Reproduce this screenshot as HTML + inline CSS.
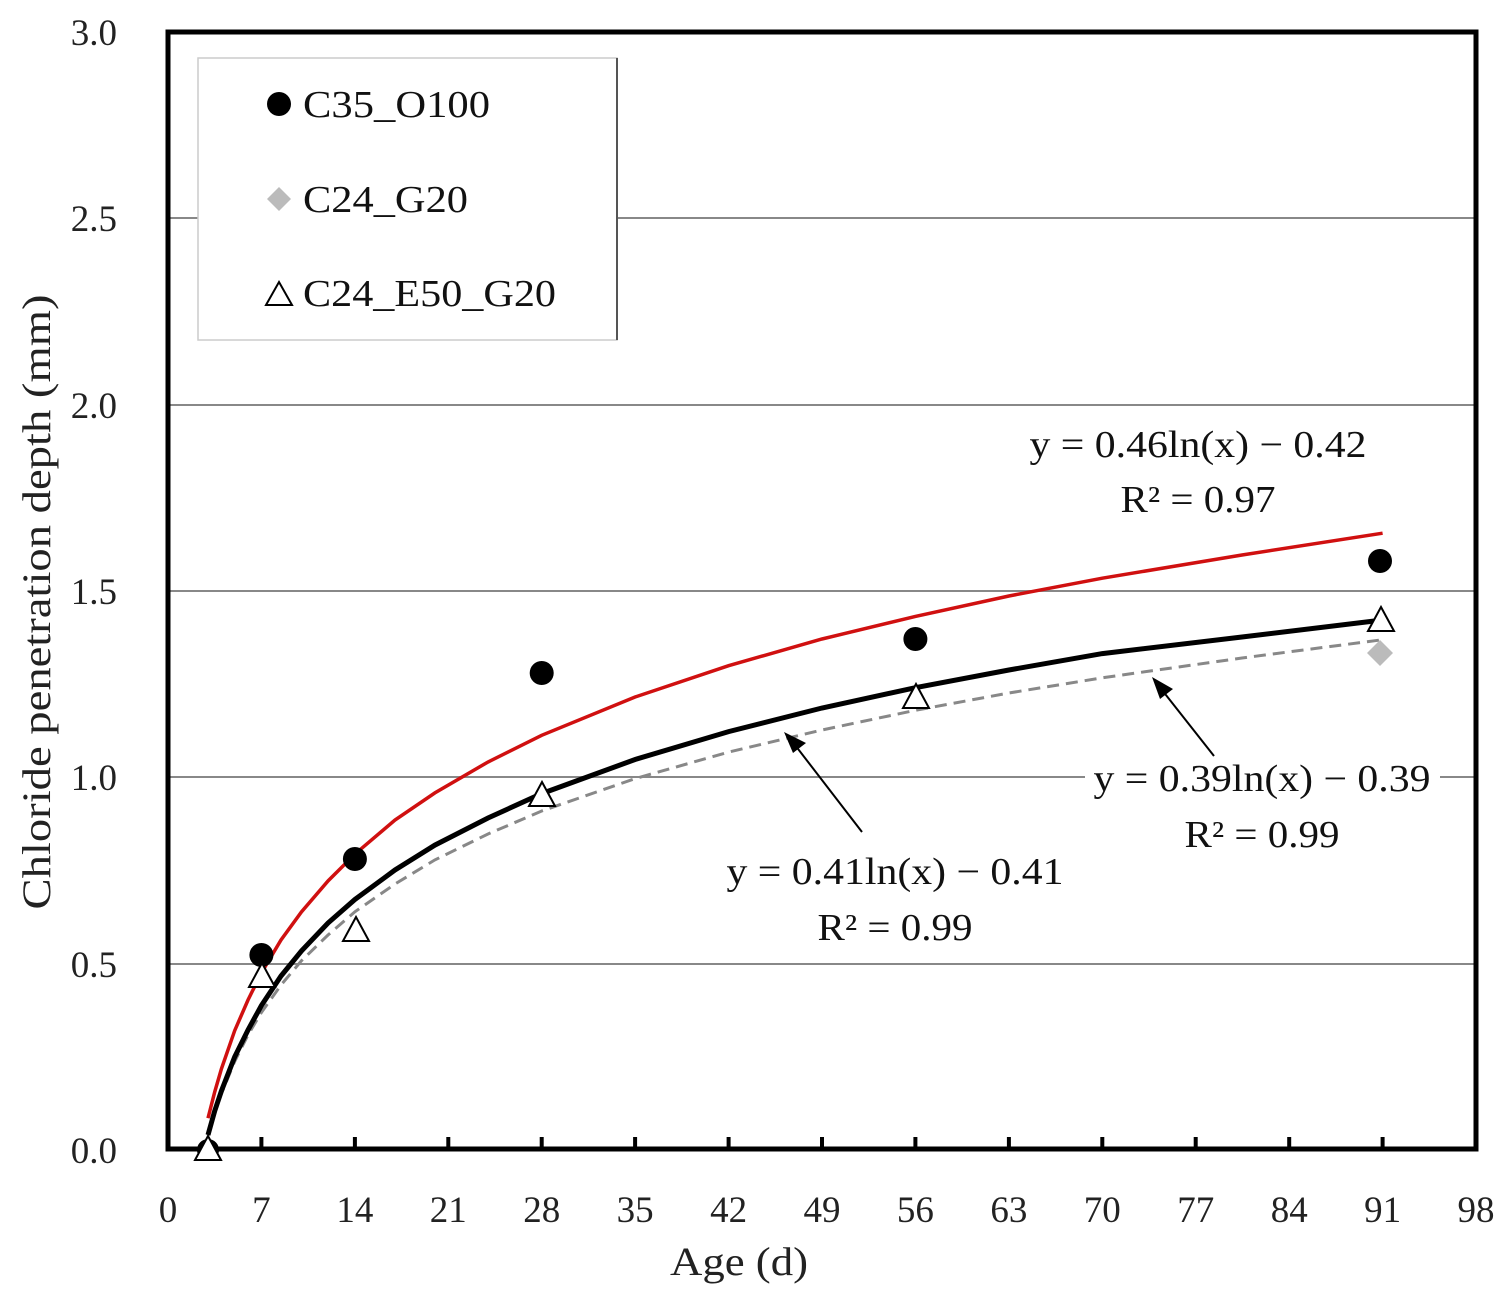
<!DOCTYPE html>
<html><head><meta charset="utf-8"><style>html,body{margin:0;padding:0;background:#fff}svg{display:block}</style></head>
<body>
<svg width="1509" height="1298" viewBox="0 0 1509 1298" font-family="Liberation Serif, serif">
<g stroke="#888" stroke-width="2">
<line x1="168" y1="218" x2="1476" y2="218"/>
<line x1="168" y1="405" x2="1476" y2="405"/>
<line x1="168" y1="591" x2="1476" y2="591"/>
<line x1="168" y1="777" x2="1476" y2="777"/>
<line x1="168" y1="964" x2="1476" y2="964"/>
</g>
<rect x="198" y="58" width="419" height="282" fill="#fff" stroke="#ccc" stroke-width="1.5"/>
<line x1="617" y1="58" x2="617" y2="340" stroke="#555" stroke-width="2"/>
<rect x="168" y="32" width="1308" height="1117" fill="none" stroke="#000" stroke-width="5"/>
<g stroke="#000" stroke-width="4">
<line x1="261.4" y1="1149" x2="261.4" y2="1137"/><line x1="354.9" y1="1149" x2="354.9" y2="1137"/>
<line x1="448.3" y1="1149" x2="448.3" y2="1137"/><line x1="541.7" y1="1149" x2="541.7" y2="1137"/>
<line x1="635.1" y1="1149" x2="635.1" y2="1137"/><line x1="728.6" y1="1149" x2="728.6" y2="1137"/>
<line x1="822" y1="1149" x2="822" y2="1137"/><line x1="915.4" y1="1149" x2="915.4" y2="1137"/>
<line x1="1008.9" y1="1149" x2="1008.9" y2="1137"/><line x1="1102.3" y1="1149" x2="1102.3" y2="1137"/>
<line x1="1195.7" y1="1149" x2="1195.7" y2="1137"/><line x1="1289.2" y1="1149" x2="1289.2" y2="1137"/>
<line x1="1382.6" y1="1149" x2="1382.6" y2="1137"/>
</g>
<g font-size="37" fill="#222" text-anchor="end">
<text x="117" y="45">3.0</text><text x="117" y="231">2.5</text><text x="117" y="418">2.0</text>
<text x="117" y="604">1.5</text><text x="117" y="790">1.0</text><text x="117" y="977">0.5</text><text x="117" y="1163">0.0</text>
</g>
<g font-size="37" fill="#222" text-anchor="middle">
<text x="168" y="1222">0</text><text x="261.4" y="1222">7</text><text x="354.9" y="1222">14</text>
<text x="448.3" y="1222">21</text><text x="541.7" y="1222">28</text><text x="635.1" y="1222">35</text>
<text x="728.6" y="1222">42</text><text x="822" y="1222">49</text><text x="915.4" y="1222">56</text>
<text x="1008.9" y="1222">63</text><text x="1102.3" y="1222">70</text><text x="1195.7" y="1222">77</text>
<text x="1289.2" y="1222">84</text><text x="1382.6" y="1222">91</text><text x="1476" y="1222">98</text>
<text x="739" y="1275" font-size="40" textLength="138" lengthAdjust="spacingAndGlyphs">Age (d)</text>
<text transform="translate(50,602) rotate(-90)" font-size="40" textLength="615" lengthAdjust="spacingAndGlyphs">Chloride penetration depth (mm)</text>
</g>
<polyline fill="none" stroke="#888" stroke-width="3" stroke-dasharray="12,7" points="208,1135.7 214.7,1113 221.4,1093.8 234.7,1061.4 248,1035 261.4,1012.5 281,985 301.5,960.7 328,935 354.9,911.8 395,884 434.9,859.9 488,834 541.7,811 635.1,778.6 728.6,752.1 822,730 915.4,710.3 1008.9,693 1102.3,677.8 1242,658 1382.6,639.7"/>
<polyline fill="none" stroke="#000" stroke-width="5" points="208,1134.9 214.7,1111 221.4,1091 234.7,1056.9 248,1030 261.4,1005.5 281,976 301.5,950.9 328,923 354.9,899.5 395,870 434.9,845.1 488,818 541.7,793.6 635.1,759.5 728.6,731.6 822,708 915.4,687.7 1008.9,670 1102.3,653.6 1242,637 1382.6,620"/>
<polyline fill="none" stroke="#d01010" stroke-width="3.5" points="208,1118.2 214.7,1092 221.4,1068.9 234.7,1030.6 248,1000 261.4,972.9 281,940 301.5,911.8 328,881 354.9,854.1 395,820 434.9,792.9 488,762 541.7,735.3 635.1,697 728.6,665.7 822,639 915.4,616.4 1008.9,596 1102.3,578.2 1242,555 1382.6,533.2"/>
<g fill="#000">
<circle cx="208" cy="1150" r="11"/><circle cx="261.4" cy="955" r="12"/><circle cx="354.9" cy="859" r="12"/>
<circle cx="541.7" cy="673" r="12"/><circle cx="915.4" cy="639" r="12"/><circle cx="1380" cy="561" r="12"/>
</g>
<polygon points="1380,640 1393,653 1380,666 1367,653" fill="#bbb"/>
<g fill="#fff" stroke="#000" stroke-width="2">
<polygon points="208,1136 221,1160 195,1160"/>
<polygon points="262,963 275,987 249,987"/>
<polygon points="356,917 369,941 343,941"/>
<polygon points="542,782 555,806 529,806"/>
<polygon points="916,684 929,708 903,708"/>
<polygon points="1381,607 1394,631 1368,631"/>
</g>
<circle cx="279" cy="104" r="12" fill="#000"/>
<polygon points="279,187 291,199 279,211 267,199" fill="#bbb"/>
<polygon points="279,282 292,305 266,305" fill="#fff" stroke="#000" stroke-width="2"/>
<g font-size="38" fill="#111">
<text x="303" y="117" textLength="187" lengthAdjust="spacingAndGlyphs">C35_O100</text>
<text x="303" y="212" textLength="165" lengthAdjust="spacingAndGlyphs">C24_G20</text>
<text x="303" y="306" textLength="253" lengthAdjust="spacingAndGlyphs">C24_E50_G20</text>
</g>
<g font-size="38" fill="#111" text-anchor="middle">
<text x="1198" y="457" textLength="337" lengthAdjust="spacingAndGlyphs">y = 0.46ln(x) − 0.42</text>
<text x="1198" y="512" textLength="155" lengthAdjust="spacingAndGlyphs">R² = 0.97</text>
<rect x="1085" y="755" width="355" height="45" fill="#fff" stroke="none"/>
<text x="1262" y="791" textLength="337" lengthAdjust="spacingAndGlyphs">y = 0.39ln(x) − 0.39</text>
<text x="1262" y="847" textLength="155" lengthAdjust="spacingAndGlyphs">R² = 0.99</text>
<text x="895" y="884" textLength="337" lengthAdjust="spacingAndGlyphs">y = 0.41ln(x) − 0.41</text>
<text x="895" y="940" textLength="155" lengthAdjust="spacingAndGlyphs">R² = 0.99</text>
</g>
<g stroke="#000" stroke-width="2">
<line x1="862" y1="832" x2="795" y2="745"/>
<line x1="1214" y1="756" x2="1162" y2="690"/>
</g>
<polygon points="784,732 806,743 793,753" fill="#000"/>
<polygon points="1152,677 1173,689 1160,699" fill="#000"/>
</svg>
</body></html>
